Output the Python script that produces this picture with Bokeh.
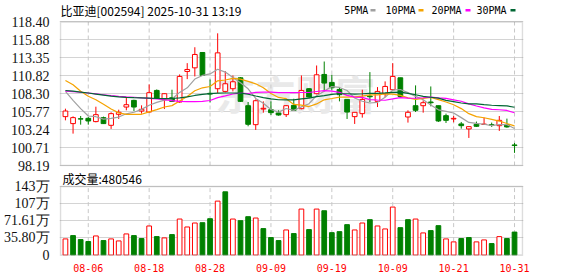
from bokeh.plotting import figure
from bokeh.layouts import column
from bokeh.models import Range1d, FixedTicker, Label, BoxAnnotation
from bokeh.embed import file_html
from bokeh.resources import INLINE

# ---------------- data ----------------
dates = ["08-01", "08-04", "08-05", "08-06", "08-07", "08-08", "08-11", "08-12", "08-13", "08-14",
         "08-15", "08-18", "08-19", "08-20", "08-21", "08-22", "08-25", "08-26", "08-27", "08-28",
         "08-29", "09-01", "09-02", "09-03", "09-04", "09-05", "09-08", "09-09", "09-10", "09-11",
         "09-12", "09-15", "09-16", "09-17", "09-18", "09-19", "09-22", "09-23", "09-24", "09-25",
         "09-26", "09-29", "09-30", "10-09", "10-10", "10-13", "10-14", "10-15", "10-16", "10-17",
         "10-20", "10-21", "10-22", "10-23", "10-24", "10-27", "10-28", "10-29", "10-30", "10-31"]

opens = [105.07, 104.09, 104.78, 104.83, 104.37, 104.93, 103.85, 105.40, 106.42, 107.36,
         105.86, 105.72, 108.76, 107.45, 107.73, 107.13, 111.43, 111.94, 114.10, 108.35,
         109.00, 108.62, 109.00, 110.54, 106.61, 103.94, 106.14, 106.05, 105.58, 105.35,
         106.66, 106.19, 109.00, 108.30, 111.01, 109.89, 108.90, 107.50, 105.07, 105.49,
         107.97, 107.22, 108.30, 108.86, 110.54, 105.02, 106.61, 106.61, 107.13, 106.61,
         105.21, 104.74, 104.04, 103.34, 103.99, 103.97, 103.94, 103.80, 103.94, 101.09]
highs = [106.19, 105.11, 105.16, 105.02, 106.47, 105.07, 105.68, 106.05, 107.69, 107.45,
         106.66, 109.61, 108.90, 108.35, 108.86, 111.01, 112.60, 114.84, 114.10, 110.31,
         116.80, 111.48, 110.87, 110.63, 107.13, 107.50, 107.22, 107.22, 105.96, 106.70,
         107.59, 110.87, 109.09, 112.27, 112.83, 110.96, 109.23, 107.50, 105.72, 108.86,
         111.34, 109.23, 110.03, 112.60, 110.54, 105.96, 109.47, 107.36, 109.32, 106.61,
         105.49, 105.16, 104.32, 103.66, 104.37, 104.93, 104.23, 105.16, 104.79, 101.37]
lows = [104.55, 102.68, 103.94, 103.94, 104.27, 104.04, 103.34, 104.74, 105.96, 105.86,
        105.49, 105.63, 107.55, 106.14, 107.13, 107.03, 110.35, 110.73, 110.87, 107.07,
        108.40, 108.48, 108.62, 107.13, 103.71, 103.20, 105.63, 105.30, 105.21, 105.02,
        105.86, 106.10, 107.69, 108.20, 108.62, 108.76, 107.22, 104.74, 104.04, 104.93,
        107.13, 106.42, 107.83, 108.76, 107.69, 104.23, 105.72, 105.63, 106.52, 104.32,
        104.18, 104.27, 103.38, 102.07, 103.62, 103.94, 103.62, 103.06, 103.52, 99.97]
closes = [105.86, 104.93, 104.72, 104.46, 105.35, 104.09, 105.49, 105.68, 106.75, 106.42,
          106.10, 108.44, 107.69, 108.30, 107.22, 110.73, 111.71, 113.82, 110.87, 108.25,
          114.05, 109.70, 109.98, 107.22, 103.99, 107.31, 106.24, 105.63, 105.30, 106.61,
          105.96, 108.76, 107.83, 110.96, 109.79, 109.14, 108.16, 105.72, 105.68, 107.50,
          107.87, 108.62, 109.32, 110.73, 107.92, 105.68, 105.96, 107.03, 107.03, 104.46,
          104.55, 104.83, 103.80, 103.66, 103.71, 104.02, 103.85, 104.55, 103.62, 101.00]

ma5 = [108.62, 107.36, 106.19, 105.16, 105.06, 104.71, 104.82, 105.01, 105.47, 105.69,
       106.09, 106.68, 107.08, 107.39, 107.55, 108.48, 109.13, 110.36, 110.87, 111.08,
       111.74, 111.34, 110.57, 109.84, 108.99, 107.64, 106.95, 106.08, 105.69, 106.22,
       105.95, 106.45, 106.89, 108.02, 108.66, 109.30, 109.18, 108.75, 107.70, 107.24,
       106.99, 107.08, 107.80, 108.81, 108.89, 108.45, 107.92, 107.46, 106.72, 106.03,
       105.81, 105.58, 104.93, 104.26, 104.11, 104.00, 103.81, 103.96, 103.95, 103.41]
ma10 = [110.17, 109.55, 108.65, 107.95, 107.45, 106.80, 106.15, 105.60, 105.38, 105.38,
        105.40, 105.75, 106.05, 106.43, 106.62, 107.28, 107.90, 108.72, 109.13, 109.31,
        110.11, 110.23, 110.46, 110.36, 110.03, 109.69, 109.14, 108.32, 107.77, 107.60,
        106.79, 106.70, 106.49, 106.86, 107.44, 107.62, 107.81, 107.82, 107.86, 107.95,
        108.14, 108.13, 108.28, 108.25, 108.07, 107.72, 107.50, 107.63, 107.77, 107.46,
        107.13, 106.75, 106.20, 105.49, 105.07, 104.91, 104.69, 104.45, 104.10, 103.76]
ma20 = [108.65, 108.58, 108.50, 108.40, 108.28, 108.15, 108.02, 107.92, 107.85, 107.80,
        107.72, 107.65, 107.55, 107.45, 107.32, 107.22, 107.18, 107.18, 107.22, 107.34,
        107.75, 107.99, 108.26, 108.39, 108.33, 108.49, 108.52, 108.52, 108.45, 108.46,
        108.45, 108.47, 108.47, 108.61, 108.74, 108.66, 108.48, 108.07, 107.81, 107.78,
        107.47, 107.41, 107.38, 107.56, 107.75, 107.67, 107.66, 107.73, 107.81, 107.71,
        107.64, 107.44, 107.24, 106.87, 106.57, 106.31, 106.10, 106.04, 105.94, 105.61]
ma30 = [108.75, 108.65, 108.53, 108.40, 108.25, 108.10, 107.95, 107.85, 107.78, 107.74,
        107.72, 107.68, 107.62, 107.60, 107.62, 107.72, 107.85, 108.05, 108.20, 108.30,
        108.38, 108.40, 108.40, 108.38, 108.22, 107.98, 107.75, 107.58, 107.45, 107.43,
        107.43, 107.56, 107.67, 107.88, 108.03, 108.20, 108.29, 108.29, 108.25, 108.29,
        108.35, 108.35, 108.41, 108.49, 108.51, 108.34, 108.15, 107.93, 107.80, 107.67,
        107.36, 107.19, 106.99, 106.87, 106.86, 106.75, 106.67, 106.63, 106.58, 106.39]

# volume in 万手, and whether the bar is drawn as an "up" (red hollow) bar
volumes = [33.8, 40.7, 32.4, 28.3, 40.0, 30.3, 33.8, 29.6, 44.2, 40.7,
           34.5, 60.8, 38.6, 35.9, 42.8, 75.3, 58.7, 67.0, 67.7, 76.0,
           112.7, 132.1, 75.3, 71.9, 80.2, 77.4, 55.3, 36.6, 30.3, 52.5,
           44.9, 96.1, 53.2, 96.1, 92.6, 46.9, 49.0, 63.6, 52.5, 67.0,
           74.0, 60.8, 54.6, 100.3, 57.3, 74.0, 75.3, 46.3, 51.1, 61.5,
           33.8, 27.6, 34.5, 36.6, 27.6, 31.7, 24.1, 38.6, 34.5, 48.05]
vol_up = [1, 0, 0, 0, 1, 0, 1, 1, 1, 0,
          0, 1, 0, 1, 0, 1, 1, 1, 0, 0,
          1, 0, 1, 0, 0, 1, 0, 0, 0, 1,
          0, 1, 0, 1, 0, 0, 0, 0, 1, 1,
          0, 1, 1, 1, 0, 0, 1, 1, 0, 0,
          1, 1, 0, 0, 1, 1, 0, 1, 0, 0]

price_ticks = [98.19, 100.71, 103.24, 105.77, 108.30, 110.82, 113.35, 115.88, 118.40]
price_tick_labels = ["98.19", "100.71", "103.24", "105.77", "108.30", "110.82", "113.35", "115.88", "118.40"]
vol_ticks = [0, 35.80, 71.61, 107.41, 143.22]
vol_tick_labels = ["0", "35.80万", "71.61万", "107万", "143万"]
date_labels = ["08-06", "08-18", "08-28", "09-09", "09-19", "10-09", "10-21", "10-31"]
title_text = "比亚迪[002594] 2025-10-31 13:19"
vol_title = "成交量:480546"
ma_names = ["5PMA", "10PMA", "20PMA", "30PMA"]

# ---------------- styling / layout constants ----------------
RED = "#ff0000"
GREEN = "#008000"
MA_COLORS = ["#a0a0a0", "#f5a300", "#ff00ff", "#006633"]
BORDER = "#8f8f8f"
GRID = "#d4d4d4"
VGRID = "#c8c8c8"
TICK_FONT = "Liberation Sans Narrow"
W = 578
FL = 54            # frame left (px)
XPAD = 0.13        # x padding (data units) so the panel border is not clipped
X0, X1 = -0.65, 60.05

x = list(range(len(dates)))
tick_pos = [dates.index(d) for d in date_labels]
xr = Range1d(X0 - XPAD, X1 + XPAD)


def style(p):
    p.outline_line_color = None
    p.background_fill_color = "white"
    p.xgrid.visible = False
    p.ygrid.grid_line_color = GRID
    ax = p.yaxis[0]
    ax.axis_line_color = None
    ax.major_tick_line_color = None
    ax.minor_tick_line_color = None
    ax.major_label_standoff = 4
    ax.major_label_text_font = TICK_FONT
    ax.major_label_text_font_size = "14px"
    ax.major_label_text_color = "#111111"


def panel_box(p, lo, hi):
    n = len(tick_pos)
    p.segment(x0=tick_pos, y0=[lo] * n, x1=tick_pos, y1=[hi] * n,
              line_color=VGRID, line_dash="4 3", line_width=1)
    p.add_layout(BoxAnnotation(left=X0, right=X1, bottom=lo, top=hi,
                               fill_alpha=0, line_color=BORDER, line_width=1.5,
                               level="overlay"))


# ---------------- price panel (frame spans canvas y 0..166) ----------------
P1_H = 176
FB1 = 166  # frame bottom in canvas px
p1 = figure(width=W, height=P1_H, x_range=xr, y_range=Range1d(98.05, 121.42),
            output_backend="svg", toolbar_location=None, x_axis_location=None,
            min_border_left=FL, min_border_right=W - 523, min_border_top=0,
            min_border_bottom=P1_H - FB1)
style(p1)
p1.border_fill_color = "white"
p1.yaxis.ticker = FixedTicker(ticks=price_ticks)
p1.yaxis.major_label_overrides = dict(zip(price_ticks, price_tick_labels))
p1.ygrid.ticker = FixedTicker(ticks=price_ticks)

p1.add_layout(Label(x=290 - FL, y=FB1 - 92, x_units="screen", y_units="screen", text="东方财富",
                    text_font="Noto Sans CJK SC", text_font_size="40px", text_font_style="bold",
                    text_color="#e9e9e9", text_align="center", text_baseline="middle",
                    level="underlay"))

panel_box(p1, price_ticks[0], price_ticks[-1])

up = [c >= o for o, c in zip(opens, closes)]
cols = [RED if u else GREEN for u in up]
fills = ["white" if u else GREEN for u in up]
tops = [max(o, c) for o, c in zip(opens, closes)]
bots = [min(o, c) for o, c in zip(opens, closes)]

p1.segment(x0=x, y0=lows, x1=x, y1=highs, line_color=cols, line_width=1)
p1.vbar(x=x, width=0.62, top=tops, bottom=bots, fill_color=fills, line_color=cols, line_width=1)

for ma, col in zip([ma5, ma10, ma20, ma30], MA_COLORS):
    p1.line(x, ma, line_color=col, line_width=1.2)

# title + legend (screen units: origin at frame bottom-left, y upward)
p1.add_layout(Label(x=55 - FL, y=FB1 - 10, x_units="screen", y_units="screen", text=title_text,
                    text_font="Noto Sans CJK SC", text_font_size="12px",
                    text_baseline="middle", text_color="#000000"))
leg_text_x = [338.7, 380, 426, 471]
leg_box_x = [365, 413, 460, 505]
for name, tx, bx, col in zip(ma_names, leg_text_x, leg_box_x, MA_COLORS):
    p1.add_layout(Label(x=tx - FL, y=FB1 - 9.5, x_units="screen", y_units="screen", text=name,
                        text_font="DejaVu Sans Mono", text_font_size="10px",
                        text_baseline="middle", text_color="#000000"))
    p1.add_layout(BoxAnnotation(left=bx - FL, right=bx + 5 - FL, bottom=FB1 - 11, top=FB1 - 8.5,
                                left_units="screen", right_units="screen",
                                bottom_units="screen", top_units="screen",
                                fill_color=col, fill_alpha=1, line_color=None))

# ---------------- volume panel (overlaps p1's bottom border by 8 px) ----------------
OVER = 8
P2_TOP = P1_H - OVER          # canvas y where p2 starts
P2_H = 276 - P2_TOP
FB2 = 255 - P2_TOP            # frame bottom inside p2
# frame spans p2 canvas 0..FB2 ; 0 at canvas 254.6, 143.22 at canvas 186
vpp = 143.22 / (254.6 - 186.0)
v_lo = -(255 - 254.6) * vpp
v_hi = 143.22 + (186.0 - P2_TOP) * vpp
p2 = figure(width=W, height=P2_H, x_range=xr, y_range=Range1d(v_lo, v_hi),
            output_backend="svg", toolbar_location=None,
            min_border_left=FL, min_border_right=W - 523, min_border_top=0,
            min_border_bottom=P2_H - FB2, margin=(-OVER, 0, 0, 0))
style(p2)
p2.border_fill_alpha = 0
p2.yaxis.ticker = FixedTicker(ticks=vol_ticks)
p2.yaxis.major_label_overrides = dict(zip(vol_ticks, vol_tick_labels))
p2.ygrid.ticker = FixedTicker(ticks=vol_ticks)
xa = p2.xaxis[0]
xa.ticker = FixedTicker(ticks=tick_pos)
xa.major_label_overrides = {t: d for t, d in zip(tick_pos, date_labels)}
xa.axis_line_color = None
xa.major_tick_line_color = None
xa.minor_tick_line_color = None
xa.major_label_standoff = 2
xa.major_label_text_font = "DejaVu Sans Mono"
xa.major_label_text_font_size = "10px"
xa.major_label_text_color = RED

panel_box(p2, vol_ticks[0], vol_ticks[-1])

vcols = [RED if u else GREEN for u in vol_up]
vfills = ["white" if u else GREEN for u in vol_up]
p2.vbar(x=x, width=0.62, top=volumes, bottom=0, fill_color=vfills, line_color=vcols, line_width=1)

p2.add_layout(Label(x=57 - FL, y=FB2 - (177.7 - P2_TOP), x_units="screen", y_units="screen",
                    text=vol_title, text_font="Noto Sans CJK SC", text_font_size="12px",
                    text_baseline="middle", text_color="#000000"))

layout = column(p1, p2, spacing=0)
open("out.html", "w").write(file_html(layout, INLINE))
